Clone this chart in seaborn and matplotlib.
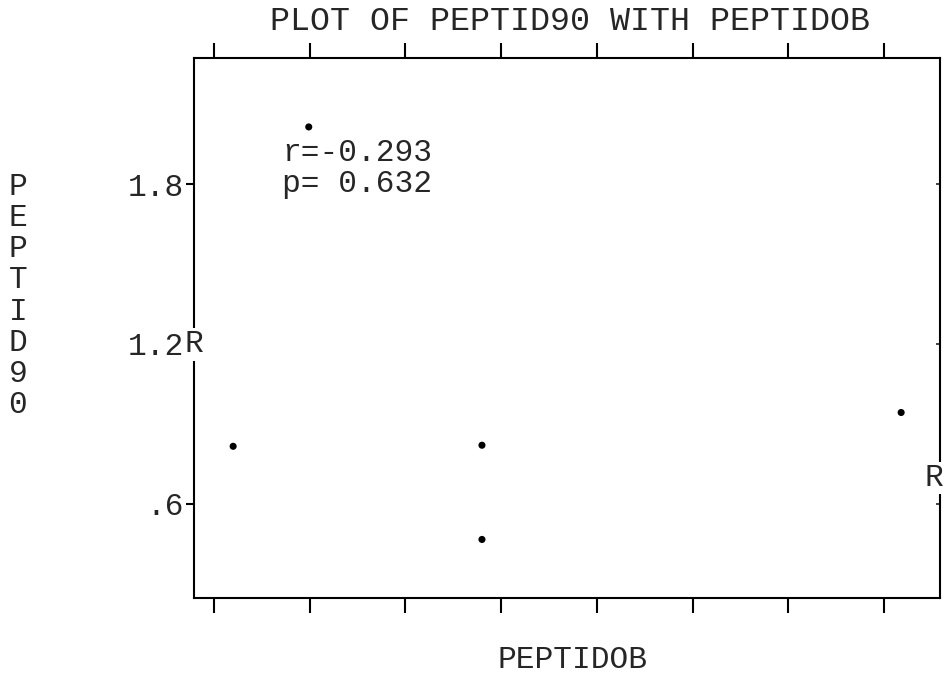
import matplotlib
matplotlib.use('Agg')
from matplotlib import pyplot as plt
import pandas as pd
import seaborn as sns

# values (x in tick units, ticks are unlabeled)
peptidob = [0.20, 0.99, 2.80, 2.80, 7.18]
peptid90 = [0.815, 2.015, 0.819, 0.465, 0.942]
x_ticks = [0, 1, 2, 3, 4, 5, 6, 7]
y_ticks = [0.6, 1.2, 1.8]
y_tick_labels = ['.6', '1.2', '1.8']
# regression marks "R" where the fitted line meets the left / right frame
reg_left = 1.198
reg_right = 0.695
r_text = 'r=-0.293'
p_text = 'p= 0.632'

df = pd.DataFrame({'PEPTIDOB': peptidob, 'PEPTID90': peptid90})

sns.set_style('white')
plt.rcParams['font.family'] = ['Liberation Mono', 'DejaVu Sans Mono']
fs = 22.5

fig = plt.figure(figsize=(9.44, 6.75), dpi=100)
ax = fig.add_axes([194 / 944, 1 - 598 / 675, (940 - 194) / 944, (598 - 58) / 675])

sns.scatterplot(data=df, x='PEPTIDOB', y='PEPTID90', ax=ax, color='black',
                s=26, edgecolor='none', legend=False)

ax.set_xlim(-0.209, 7.586)
ax.set_ylim(0.245, 2.274)

for side in ['left', 'right', 'top', 'bottom']:
    ax.spines[side].set_color('black')
    ax.spines[side].set_linewidth(1.5)

ax.set_xticks(x_ticks)
ax.tick_params(axis='x', bottom=True, top=True, direction='out', length=11,
               width=1.5, color='black', labelbottom=False, labeltop=False)
ax.set_yticks(y_ticks)
ax.set_yticklabels(y_tick_labels)
ax.tick_params(axis='y', left=True, right=False, direction='out', length=6,
               width=1.5, color='black', labelsize=fs, pad=1)

sec = ax.secondary_yaxis('right')
sec.set_yticks(y_ticks)
sec.tick_params(direction='in', length=3, width=1.2, labelright=False)
sec.spines['right'].set_visible(False)

ax.set_xlabel('')
ax.set_ylabel('')

# regression end marks
ax.text(-0.209, reg_left, 'R', fontsize=fs, ha='center', va='center', clip_on=False,
        zorder=5, bbox=dict(facecolor='white', edgecolor='none', pad=1))
ax.text(7.586, reg_right, 'R', fontsize=fs, ha='center', va='center', clip_on=False,
        zorder=5, bbox=dict(facecolor='white', edgecolor='none', pad=1))
# keep the right mark inside the canvas
ax.texts[-1].set_horizontalalignment('right')
ax.texts[-1].set_position((7.586 + 0.035, reg_right))

fig.text(282 / 944, 1 - 153 / 675, r_text, fontsize=fs, ha='left', va='center')
fig.text(282 / 944, 1 - 184 / 675, p_text, fontsize=fs, ha='left', va='center')

fig.text(570 / 944, 1 - 22 / 675, 'PLOT OF PEPTID90 WITH PEPTIDOB', fontsize=24,
         ha='center', va='center')
fig.text(573 / 944, 1 - 660 / 675, 'PEPTIDOB', fontsize=fs, ha='center', va='center')
fig.text(18 / 944, 1 - 296 / 675, '\n'.join('PEPTID90'), fontsize=fs,
         ha='center', va='center', linespacing=1.045)

fig.savefig('out.png', dpi=100)
